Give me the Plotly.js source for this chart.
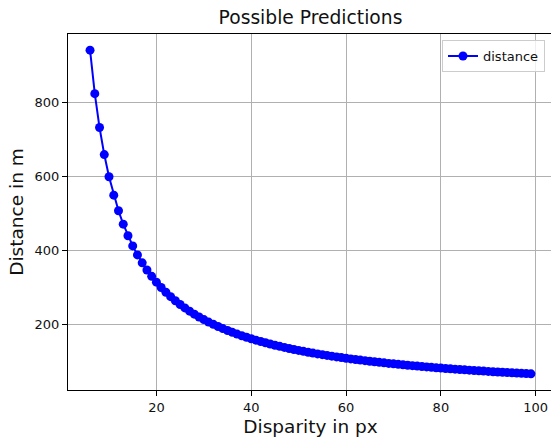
<!DOCTYPE html>
<html>
<head>
<meta charset="utf-8">
<script src="https://cdn.plot.ly/plotly-3.0.1.min.js"></script>
<style>
html, body { margin:0; padding:0; overflow:hidden; background:#fff; }
#chart { width:560px; height:437px; }
</style>
</head>
<body>
<div id="chart"></div>
<script>
const disparity = [6,7,8,9,10,11,12,13,14,15,16,17,18,19,20,21,22,23,24,25,26,27,28,29,30,31,32,33,34,35,36,37,38,39,40,41,42,43,44,45,46,47,48,49,50,51,52,53,54,55,56,57,58,59,60,61,62,63,64,65,66,67,68,69,70,71,72,73,74,75,76,77,78,79,80,81,82,83,84,85,86,87,88,89,90,91,92,93,94,95,96,97,98,99];
const distance = [941.4,823.8,732.2,659.0,599.1,549.2,506.9,470.7,439.3,411.9,387.6,366.1,346.8,329.5,313.8,299.5,286.5,274.6,263.6,253.5,244.1,235.4,227.2,219.7,212.6,205.9,199.7,193.8,188.3,183.1,178.1,173.4,169.0,164.8,160.7,156.9,153.3,149.8,146.4,143.3,140.2,137.3,134.5,131.8,129.2,126.7,124.3,122.0,119.8,117.7,115.6,113.6,111.7,109.8,108.0,106.3,104.6,103.0,101.4,99.8,98.4,96.9,95.5,94.1,92.8,91.5,90.3,89.1,87.9,86.7,85.6,84.5,83.4,82.4,81.4,80.4,79.4,78.5,77.5,76.6,75.7,74.9,74.0,73.2,72.4,71.6,70.9,70.1,69.4,68.6,67.9,67.2,66.6,65.9];
const xTicks = [20,40,60,80,100];
const yTicks = [200,400,600,800];

const font = "DejaVu Sans, sans-serif";
const trace = {
  x: disparity, y: distance, type: 'scatter', mode: 'lines+markers', name: 'distance',
  line: {color: '#0000ff', width: 2},
  marker: {color: '#0000ff', size: 9}
};
const layout = {
  width: 560, height: 437,
  margin: {l: 68, r: 7, t: 34, b: 47},
  paper_bgcolor: '#fff', plot_bgcolor: '#fff',
  font: {family: font, color: '#111', size: 13},
  title: {text: 'Possible Predictions', font: {family: font, size: 18.7, color: '#111'}, x: 0.5, xref: 'paper', y: 0.975, yanchor: 'top'},
  xaxis: {
    range: [1.35, 103.65], tickvals: xTicks, ticktext: xTicks.map(String),
    showgrid: true, gridcolor: '#b0b0b0', gridwidth: 1,
    showline: true, linecolor: '#000', linewidth: 1, mirror: true,
    ticks: 'outside', ticklen: 5, tickcolor: '#000', tickfont: {size: 13},
    zeroline: false,
    title: {text: 'Disparity in px', font: {size: 18.5}, standoff: 6}
  },
  yaxis: {
    range: [22.1, 985.2], tickvals: yTicks, ticktext: yTicks.map(String),
    showgrid: true, gridcolor: '#b0b0b0', gridwidth: 1,
    showline: true, linecolor: '#000', linewidth: 1, mirror: true,
    ticks: 'outside', ticklen: 5, tickcolor: '#000', tickfont: {size: 13},
    zeroline: false,
    title: {text: 'Distance in m', font: {size: 18.5}, standoff: 6}
  },
  showlegend: true,
  legend: {
    x: 0.9835, xanchor: 'right', y: 0.983, yanchor: 'top',
    bgcolor: 'rgba(255,255,255,0.8)', bordercolor: '#cccccc', borderwidth: 1,
    font: {size: 13}
  }
};
Plotly.newPlot('chart', [trace], layout, {displayModeBar: false, staticPlot: true});
</script>
</body>
</html>
